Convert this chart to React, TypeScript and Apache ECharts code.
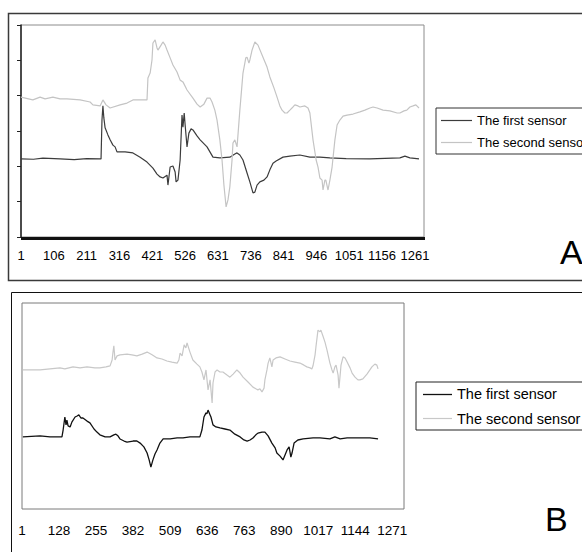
import React, { useEffect, useRef } from "react";
import * as echarts from "echarts";

// Sample counts on the category (x) axes
const SAMPLES_A = 1290;
const SAMPLES_B = 1311;
const categoriesA = Array.from({ length: SAMPLES_A }, (_, i) => String(i + 1));
const categoriesB = Array.from({ length: SAMPLES_B }, (_, i) => String(i + 1));

const seriesNames = ["The first sensor", "The second sensor"];

// Panel A – [sample index, value]
const firstSensorA: [number, number][] = [
  [0, 2.21], [40, 2.2], [70, 2.23], [125, 2.21], [170, 2.19], [210, 2.22], [253, 2.21], [256, 2.21],
  [259, 3.31], [262, 3.71], [265, 3.37], [269, 3.09], [278, 2.89], [285, 2.75], [294, 2.6], [301, 2.55],
  [307, 2.41], [333, 2.41], [358, 2.38], [381, 2.26], [403, 2.12], [422, 1.95], [435, 1.78], [445, 1.7],
  [454, 1.67], [467, 1.75], [470, 1.47], [477, 1.98], [486, 2.01], [493, 1.84], [496, 1.56], [502, 1.61],
  [509, 2.18], [515, 3.45], [518, 3.11], [522, 3.51], [525, 3.17], [531, 2.55], [537, 2.94], [544, 3.06],
  [550, 3.03], [563, 2.86], [573, 2.75], [595, 2.55], [614, 2.26], [636, 2.24], [668, 2.26], [684, 2.35],
  [691, 2.38], [700, 2.32], [710, 2.18], [723, 1.81], [732, 1.56], [742, 1.25], [748, 1.27], [755, 1.47],
  [764, 1.56], [777, 1.61], [787, 1.7], [796, 1.9], [806, 2.09], [816, 2.15], [838, 2.26], [860, 2.29],
  [892, 2.32], [924, 2.26], [956, 2.26], [988, 2.24], [1040, 2.22], [1116, 2.21], [1212, 2.24],
  [1228, 2.29], [1244, 2.24], [1273, 2.21],
];
const secondSensorA: [number, number][] = [
  [0, 3.96], [38, 3.88], [61, 3.96], [77, 3.91], [102, 3.96], [125, 3.91], [147, 3.91], [189, 3.88],
  [221, 3.82], [230, 3.74], [253, 3.71], [262, 3.88], [272, 3.74], [285, 3.65], [317, 3.74], [339, 3.79],
  [358, 3.88], [381, 3.88], [403, 3.88], [406, 4.5], [413, 4.64], [419, 5.01], [422, 5.49], [429, 5.58],
  [435, 5.35], [438, 5.29], [448, 5.43], [454, 5.52], [461, 5.43], [467, 5.29], [477, 5.07], [486, 4.87],
  [499, 4.67], [509, 4.44], [518, 4.39], [531, 4.16], [550, 3.93], [563, 3.76], [573, 3.68], [585, 3.76],
  [595, 3.93], [605, 3.93], [611, 3.82], [620, 3.59], [627, 3.31], [636, 2.75], [643, 2.18], [649, 1.47],
  [656, 0.85], [662, 1.05], [668, 1.42], [675, 2.18], [678, 2.66], [684, 2.75], [691, 2.55], [694, 2.89],
  [700, 3.59], [710, 4.64], [719, 5.07], [723, 5.09], [729, 4.92], [732, 5.01], [739, 5.29], [748, 5.52],
  [758, 5.43], [774, 5.09], [787, 4.81], [796, 4.53], [809, 4.22], [819, 3.96], [828, 3.71], [835, 3.59],
  [844, 3.51], [851, 3.51], [860, 3.59], [870, 3.68], [876, 3.74], [886, 3.71], [892, 3.68], [908, 3.71],
  [918, 3.65], [924, 3.51], [934, 2.75], [944, 2.18], [950, 1.98], [956, 1.67], [963, 1.61], [966, 1.33],
  [972, 1.61], [975, 1.61], [982, 1.33], [988, 1.61], [995, 1.98], [1004, 2.75], [1011, 3.17], [1020, 3.31],
  [1030, 3.42], [1043, 3.45], [1062, 3.48], [1084, 3.54], [1100, 3.59], [1116, 3.65], [1126, 3.68],
  [1139, 3.65], [1158, 3.59], [1180, 3.57], [1203, 3.51], [1212, 3.51], [1225, 3.57], [1234, 3.59],
  [1244, 3.68], [1254, 3.71], [1263, 3.74], [1273, 3.65],
];

// Panel B – [sample index, value]
const firstSensorB: [number, number][] = [
  [3, 2.1], [62, 2.13], [96, 2.1], [130, 2.1], [137, 2.1], [141, 2.3], [147, 2.68], [151, 2.45],
  [154, 2.59], [158, 2.42], [165, 2.39], [171, 2.53], [182, 2.68], [189, 2.71], [195, 2.74], [202, 2.65],
  [209, 2.65], [223, 2.56], [233, 2.51], [247, 2.33], [257, 2.24], [267, 2.16], [285, 2.1], [302, 2.1],
  [315, 2.16], [322, 2.18], [329, 2.13], [336, 2.04], [350, 1.98], [360, 1.95], [381, 1.98], [394, 1.98],
  [405, 1.92], [418, 1.81], [429, 1.63], [436, 1.43], [442, 1.22], [449, 1.43], [456, 1.6], [463, 1.72],
  [473, 1.92], [484, 2.04], [497, 2.04], [508, 2.04], [532, 2.07], [552, 2.07], [576, 2.1], [610, 2.1],
  [617, 2.3], [624, 2.68], [631, 2.8], [634, 2.77], [638, 2.88], [645, 2.74], [648, 2.68], [655, 2.45],
  [665, 2.39], [679, 2.36], [696, 2.33], [713, 2.3], [730, 2.18], [748, 2.1], [761, 2.01], [772, 1.98],
  [782, 2.01], [792, 2.07], [802, 2.16], [809, 2.21], [823, 2.24], [833, 2.24], [844, 2.13], [857, 1.92],
  [868, 1.78], [874, 1.63], [885, 1.54], [895, 1.43], [909, 1.72], [916, 1.81], [922, 1.51], [926, 1.63],
  [933, 1.92], [946, 2.01], [964, 2.04], [998, 2.07], [1022, 2.07], [1056, 2.04], [1073, 2.1], [1091, 2.04],
  [1115, 2.07], [1159, 2.07], [1193, 2.07], [1221, 2.04],
];
const secondSensorB: [number, number][] = [
  [3, 4.05], [27, 4.05], [62, 4.05], [96, 4.08], [130, 4.11], [147, 4.08], [175, 4.14], [199, 4.11],
  [223, 4.14], [250, 4.11], [267, 4.11], [288, 4.14], [302, 4.17], [309, 4.34], [312, 4.57], [315, 4.75],
  [319, 4.34], [326, 4.46], [336, 4.49], [360, 4.51], [377, 4.49], [394, 4.46], [412, 4.51], [429, 4.57],
  [446, 4.49], [463, 4.4], [480, 4.37], [497, 4.31], [514, 4.28], [532, 4.25], [538, 4.34], [542, 4.54],
  [549, 4.46], [556, 4.78], [562, 4.69], [566, 4.84], [576, 4.57], [586, 4.34], [600, 4.22], [610, 4.14],
  [617, 3.99], [624, 3.76], [631, 4.05], [638, 3.47], [645, 3.76], [652, 3.09], [655, 3.67], [662, 3.99],
  [669, 4.05], [679, 3.99], [689, 3.99], [703, 3.9], [713, 3.84], [724, 3.93], [737, 4.05], [748, 3.96],
  [758, 3.84], [775, 3.7], [792, 3.55], [802, 3.5], [809, 3.47], [816, 3.5], [823, 3.41], [830, 3.52],
  [833, 3.76], [840, 4.05], [844, 4.25], [850, 4.4], [857, 4.14], [861, 4.34], [871, 4.4], [885, 4.43],
  [902, 4.37], [919, 4.31], [936, 4.28], [953, 4.25], [967, 4.19], [977, 4.14], [988, 4.11], [994, 4.08],
  [998, 4.17], [1005, 4.49], [1008, 4.72], [1015, 5.21], [1022, 5.16], [1025, 5.21], [1032, 5.04],
  [1039, 4.86], [1046, 4.63], [1056, 4.25], [1063, 4.05], [1067, 3.96], [1073, 4.14], [1077, 4.19],
  [1084, 3.9], [1087, 3.52], [1091, 3.9], [1094, 4.19], [1101, 4.43], [1108, 4.4], [1115, 4.28],
  [1125, 4.11], [1132, 3.96], [1142, 3.84], [1152, 3.76], [1159, 3.76], [1169, 3.79], [1183, 3.93],
  [1193, 4.05], [1200, 4.14], [1210, 4.22], [1217, 4.19], [1221, 4.08],
];

const COLORS_A = ["#3c3c3c", "#c4c4c4"];
const COLORS_B = ["#111111", "#c8c8c8"];
const FONT = "'Liberation Sans', Arial, Helvetica, sans-serif";

export default function App() {
  const ref = useRef<HTMLDivElement>(null);
  useEffect(() => {
    if (!ref.current) return;
    const chart = echarts.init(ref.current, undefined, { renderer: "svg" });
    const lineSeries = (name: string, data: [number, number][], idx: number, color: string, width: number) => ({
      type: "line",
      name,
      data,
      xAxisIndex: idx,
      yAxisIndex: idx,
      symbol: "none",
      showSymbol: false,
      lineStyle: { color, width },
      itemStyle: { color },
      emphasis: { disabled: true },
      silent: true,
    });
    const legendSample = (x1: number, x2: number, y: number, color: string, w: number) => ({
      type: "line",
      silent: true,
      shape: { x1, y1: y, x2, y2: y },
      style: { stroke: color, lineWidth: w },
    });
    chart.setOption({
      animation: false,
      backgroundColor: "#ffffff",
      textStyle: { fontFamily: FONT },
      grid: [
        { left: 21, top: 25, width: 403, height: 212, show: true, borderColor: "#8c8c8c", borderWidth: 1 },
        { left: 22, top: 303, width: 382, height: 206, show: true, borderColor: "#7a7a7a", borderWidth: 1 },
      ],
      xAxis: [
        {
          type: "category",
          gridIndex: 0,
          data: categoriesA,
          boundaryGap: false,
          axisLine: { show: true, lineStyle: { color: "#000", width: 1 } },
          axisTick: { show: true, interval: 0, length: 3, lineStyle: { color: "#111", width: 1 } },
          axisLabel: { interval: 104, color: "#000", fontSize: 13, fontFamily: FONT, margin: 12 },
          splitLine: { show: false },
        },
        {
          type: "category",
          gridIndex: 1,
          data: categoriesB,
          boundaryGap: false,
          axisLine: { show: false },
          axisTick: { show: false },
          axisLabel: { interval: 126, color: "#000", fontSize: 13.5, fontFamily: FONT, margin: 14 },
          splitLine: { show: false },
        },
      ],
      yAxis: [
        {
          type: "value",
          gridIndex: 0,
          min: 0,
          max: 6,
          interval: 1,
          axisLine: { show: true, lineStyle: { color: "#222", width: 1.5 } },
          axisTick: { show: true, length: 4, lineStyle: { color: "#222", width: 1 } },
          axisLabel: { show: false },
          splitLine: { show: false },
        },
        {
          type: "value",
          gridIndex: 1,
          min: 0,
          max: 6,
          interval: 1,
          axisLine: { show: false },
          axisTick: { show: false },
          axisLabel: { show: false },
          splitLine: { show: false },
        },
      ],
      legend: [
        {
          orient: "vertical",
          left: 436,
          top: 108,
          itemWidth: 31,
          itemHeight: 14,
          itemGap: 9,
          padding: [5, 5, 5, 5],
          borderColor: "#333",
          borderWidth: 1,
          selectedMode: false,
          icon: "none",
          textStyle: { color: "#000", fontSize: 13, fontFamily: FONT },
          data: [
            { name: seriesNames[0], icon: "none" },
            { name: seriesNames[1], icon: "none" },
          ],
        },
        {
          orient: "vertical",
          left: 416,
          top: 382,
          itemWidth: 29,
          itemHeight: 16,
          itemGap: 9,
          padding: [4, 5, 4, 7],
          borderColor: "#222",
          borderWidth: 1,
          selectedMode: false,
          icon: "none",
          textStyle: { color: "#000", fontSize: 14.5, fontFamily: FONT },
          data: [
            { name: seriesNames[0], icon: "none" },
            { name: seriesNames[1], icon: "none" },
          ],
        },
      ],
      graphic: [
        {
          type: "rect",
          silent: true,
          shape: { x: 8.5, y: 13.5, width: 600, height: 267 },
          style: { fill: "none", stroke: "#3a3a3a", lineWidth: 1.5 },
        },
        {
          type: "rect",
          silent: true,
          shape: { x: 11.5, y: 292.5, width: 600, height: 300 },
          style: { fill: "none", stroke: "#111", lineWidth: 1 },
        },
        legendSample(441, 472, 120.5, COLORS_A[0], 1.2),
        legendSample(441, 472, 142.5, COLORS_A[1], 1.2),
        legendSample(423, 452, 394.5, COLORS_B[0], 1.3),
        legendSample(423, 452, 418.5, COLORS_B[1], 1.2),
        {
          type: "text",
          silent: true,
          x: 560,
          y: 252,
          style: { text: "A", font: `34px ${FONT}`, fill: "#000", verticalAlign: "middle", align: "left" },
        },
        {
          type: "text",
          silent: true,
          x: 545,
          y: 519,
          style: { text: "B", font: `34px ${FONT}`, fill: "#000", verticalAlign: "middle", align: "left" },
        },
      ],
      series: [
        lineSeries(seriesNames[0], firstSensorA, 0, COLORS_A[0], 1.2),
        lineSeries(seriesNames[1], secondSensorA, 0, COLORS_A[1], 1.2),
        lineSeries(seriesNames[0], firstSensorB, 1, COLORS_B[0], 1.3),
        lineSeries(seriesNames[1], secondSensorB, 1, COLORS_B[1], 1.2),
      ],
    });
    return () => chart.dispose();
  }, []);
  return <div ref={ref} style={{ position: "fixed", left: 0, top: 0, width: 582, height: 552 }} />;
}
